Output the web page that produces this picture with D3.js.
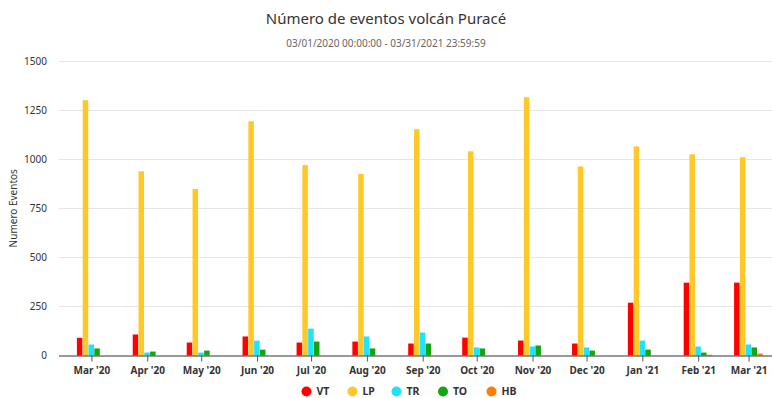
<!DOCTYPE html>
<html>
<head>
<meta charset="utf-8">
<script src="https://cdn.jsdelivr.net/npm/d3@7"></script>
<style>
  body { margin: 0; background: #fff; }
  svg { display: block; font-family: "Noto Sans", "Open Sans", "DejaVu Sans", sans-serif; }
</style>
</head>
<body>
<svg id="chart" width="772" height="398"></svg>
<script>
// Monthly event counts per class, Mar 2020 – Mar 2021
const months = ["2020-03","2020-04","2020-05","2020-06","2020-07","2020-08","2020-09",
                "2020-10","2020-11","2020-12","2021-01","2021-02","2021-03"];
const seriesNames = ["VT", "LP", "TR", "TO", "HB"];
const vt = [90, 107, 66, 97, 66, 71, 61, 91, 76, 61, 269, 371, 371];
const lp = [1300, 938, 848, 1193, 970, 925, 1152, 1040, 1315, 963, 1065, 1025, 1010];
const tr = [56, 15, 15, 76, 137, 97, 117, 41, 46, 41, 76, 46, 56];
const to = [36, 20, 25, 30, 71, 36, 61, 36, 51, 25, 30, 15, 41];
const hb = [0, 0, 0, 0, 0, 0, 0, 0, 0, 0, 0, 4, 10];
const yTicks = [0, 250, 500, 750, 1000, 1250, 1500];
const colors = ["#ff0000", "#fdc828", "#1ee3fb", "#13a60e", "#ff8000"];

const title = "Número de eventos volcán Puracé";
const subtitle = "03/01/2020 00:00:00 - 03/31/2021 23:59:59";
const yTitle = "Numero Eventos";

const values = [vt, lp, tr, to, hb];
const parse = d3.utcParse("%Y-%m");
const dates = months.map(parse);

const svg = d3.select("#chart");
const plot = { left: 59, right: 772, top: 61, bottom: 355.5 };

const x = d3.scaleUtc()
  .domain([Date.UTC(2020, 1, 12), Date.UTC(2021, 2, 14)])
  .range([plot.left, plot.right]);
const y = d3.scaleLinear().domain([0, 1500]).range([plot.bottom, plot.top]);

const groupWidth = 29;
const inner = d3.scaleBand().domain(seriesNames).range([-groupWidth / 2, groupWidth / 2]).padding(0);

// Title and subtitle
svg.append("text").attr("x", 386).attr("y", 24).attr("text-anchor", "middle")
  .attr("font-size", 15).attr("fill", "#333").text(title);
svg.append("text").attr("x", 386).attr("y", 46.5).attr("text-anchor", "middle")
  .attr("font-size", 10).attr("fill", "#666").text(subtitle);

// Horizontal grid
svg.append("g").selectAll("line").data(yTicks.filter(d => d > 0)).join("line")
  .attr("x1", plot.left).attr("x2", plot.right)
  .attr("y1", d => Math.round(y(d)) + 0.5).attr("y2", d => Math.round(y(d)) + 0.5)
  .attr("stroke", "#e6e6e6").attr("stroke-width", 1);

// Y axis labels
const yAxis = svg.append("g").attr("transform", `translate(${plot.left},0)`)
  .call(d3.axisLeft(y).tickValues(yTicks).tickFormat(d3.format("d")).tickSize(0).tickPadding(12));
yAxis.select(".domain").remove();
yAxis.selectAll("text").attr("font-size", 10).attr("fill", "#333")
  .attr("font-family", "\"Noto Sans\", sans-serif");

svg.append("text")
  .attr("transform", `translate(16.5,${(plot.top + plot.bottom) / 2}) rotate(-90)`)
  .attr("text-anchor", "middle").attr("font-size", 10).attr("fill", "#333").text(yTitle);

// Bars
const barData = [];
seriesNames.forEach((s, i) => {
  values[i].forEach((v, j) => barData.push({ s, i, date: dates[j], v }));
});
svg.append("g").selectAll("rect").data(barData).join("rect")
  .attr("x", d => x(d.date) + inner(d.s))
  .attr("width", inner.bandwidth() - 0.3)
  .attr("y", d => y(d.v))
  .attr("height", d => plot.bottom - y(d.v))
  .attr("fill", d => colors[d.i]);

// X axis
const xAxis = svg.append("g").attr("transform", `translate(0,${plot.bottom})`)
  .call(d3.axisBottom(x).tickValues(dates).tickFormat(d3.utcFormat("%b '%y"))
        .tickSizeInner(6).tickSizeOuter(0).tickPadding(5));
xAxis.select(".domain").attr("stroke", "#333").attr("d", `M${plot.left},0.5H${plot.right}`);
xAxis.selectAll(".tick line").attr("stroke", "#555");
xAxis.selectAll("text").attr("font-size", 10).attr("font-weight", "bold").attr("fill", "#333")
  .attr("font-family", "\"Noto Sans\", sans-serif");

// Legend
const legendX = [306.5, 352.5, 396.5, 443, 491.5];
const legend = svg.append("g").selectAll("g").data(seriesNames).join("g")
  .attr("transform", (d, i) => `translate(${legendX[i]},391.5)`);
legend.append("circle").attr("r", 5).attr("fill", (d, i) => colors[i]);
legend.append("text").attr("x", 10).attr("y", 3.5).attr("font-size", 10.5).attr("font-weight", "bold")
  .attr("fill", "#333").text(d => d);
</script>
</body>
</html>
